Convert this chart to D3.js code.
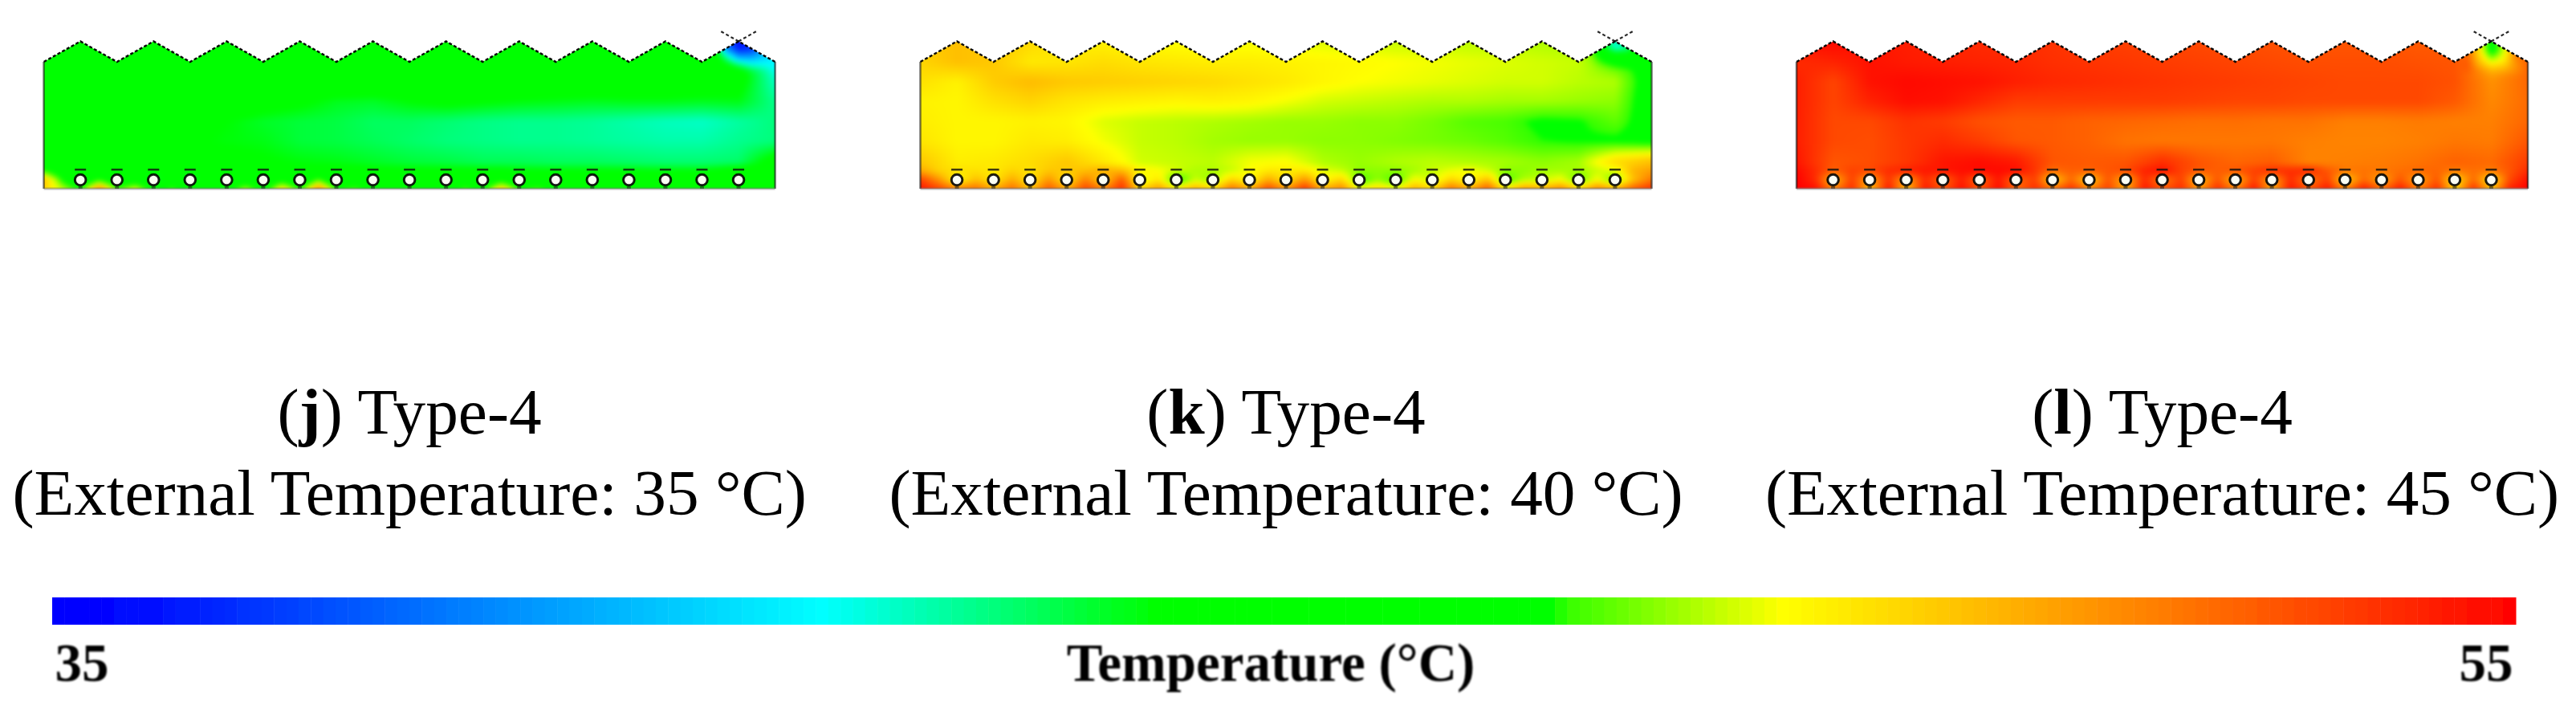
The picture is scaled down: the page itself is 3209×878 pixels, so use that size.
<!DOCTYPE html>
<html>
<head>
<meta charset="utf-8">
<script src="https://cdn.jsdelivr.net/npm/d3@7"></script>
<style>
    html, body { margin: 0; padding: 0; background: #fff; }
    #stage { position: relative; width: 3209px; height: 878px; overflow: hidden; }
    #stage canvas, #stage svg { position: absolute; left: 0; top: 0; }
    text { font-family: "Liberation Serif", serif; fill: #000; }
</style>
</head>
<body>
<div id="stage"></div>
<script>
// Temperatures, in degC
const letters = ['j', 'k', 'l'];
const externalTemps = [35, 40, 45];
const legendTicks = [35, 55];
const legendTitle = 'Temperature (°C)';

// Color bar stops (degC -> color)
const barTemps = [35, 35.6, 41.2, 43.9, 47.15, 47.22, 49, 55];
const barColors = ['#0000ff', '#0008ff', '#00ffff', '#00ff00', '#00ff00', '#33ff00', '#ffff00', '#ff0000'];

// Main field: 7 rows from the peaks downwards, 21 columns along the section
const mainJ = [
    [45.5,45.6,45.6,45.6,45.6,45.6,45.5,45.5,45.5,45.5,45.5,45.5,45.5,45.4,45.4,45.4,45.4,45.3,45.3,45.3,43],
    [45.5,45.6,45.6,45.6,45.6,45.6,45.5,45.5,45.5,45.5,45.5,45.5,45.4,45.4,45.4,45.3,45.3,45.2,45.2,45,41.2],
    [45.3,45.5,45.5,45.4,45.4,45.4,45.2,45.1,45,44.9,44.9,45,45,44.9,44.8,44.8,44.7,44.7,44.6,44.4,41.8],
    [45.1,45.3,45.2,45,45,44.9,44.4,44.1,43.6,43.5,43.9,44.2,44,43.8,43.7,43.6,43.7,43.7,43.6,43.7,42.4],
    [45.1,45.2,45,45,44.1,43.9,43.5,43.3,43.2,42.9,42.9,42.7,42.5,42.4,42.4,42.3,42.1,41.9,41.8,42.2,42.6],
    [45.1,45.1,44.9,44.3,44,43.8,43.7,43.3,43.2,43,42.8,42.6,42.5,42.4,42.4,42.3,42.2,42.1,42.1,42.4,42.6],
    [46.5,45,45,44.6,44,44.2,44,43.8,43.7,43.5,43.3,43.2,43,43,42.9,42.9,42.8,42.7,42.7,42.8,44.5]
];
const mainK = [
    [50.2,50.5,50.3,49.9,49.4,49.3,49.1,49,48.9,48.9,48.8,48.7,48.6,48.5,48.5,48.4,48.4,48.3,48.2,47.8,46.7],
    [50,50.5,50.3,49.5,49.6,49.8,49.6,49.5,49.4,49.4,49.3,49.2,49.1,49,48.9,48.8,48.7,48.6,48.5,47.5,46.5],
    [49.7,49.3,50.2,50.6,50.3,50.2,50.1,50,49.9,49.7,49.5,49.2,49,48.9,48.8,48.7,48.6,48.6,48.4,48.3,46.3],
    [49.3,49.2,49.7,50,49.6,49.4,49.3,49.2,49.3,49.2,48.9,48.6,48.5,48.4,48.3,48.3,48.2,48.2,48.1,48,46.3],
    [49.4,49.2,49.2,49.3,49.2,48.7,48.5,48.4,48.3,48.2,48.1,48.1,48,48,47.8,47.5,47.4,47,47.1,47.6,46.5],
    [49.6,49.2,49.2,49.5,49.4,48.9,48.5,48.4,48.2,48.1,48.1,48,48,47.9,47.8,47.7,47.5,47.2,47.1,47,46.7],
    [50.3,49.4,49.5,49.8,50.3,49.5,48.6,48.5,48.4,48.9,49,48.3,48.1,48.3,48.4,48.3,48.2,48,48.2,49.8,50.5]
];
const mainL = [
    [54.6,54.8,54.5,54.3,54.1,54,54,53.8,53.6,53.5,53.4,53.3,53.2,53.1,53,53,53,52.9,52.9,50.5,52.5],
    [54,54.2,54.6,54.4,54.3,54.2,54.1,53.9,53.8,53.7,53.6,53.5,53.4,53.3,53.2,53.2,53.2,53.1,53,50.8,52.7],
    [54.3,53.4,54.6,54.8,54.7,54.6,54.3,54.1,54,53.9,53.8,53.7,53.6,53.5,53.4,53.3,53.3,53.3,53.1,51.6,52.6],
    [54.3,53.4,54.2,54.7,54.6,54.1,53.6,53.6,53.6,53.6,53.6,53.5,53.4,53.4,53.3,53.3,53.3,53.3,52.9,51.8,52.5],
    [54.3,53.3,53.3,53.8,53.6,53.1,52.9,52.9,52.7,52.6,52.5,52.4,52.4,52.3,52.3,52,52,52.1,52,52,52.6],
    [54.3,53.3,53.2,53.7,54,53.6,53,52.9,52.7,52.3,52.2,52.2,52.2,52.2,52,51.9,51.9,52,52.2,52.1,53],
    [54.5,53,53.2,53.7,54.5,54.7,54.4,53,52.9,53,53.9,53,52.6,52.8,51.9,52,52.1,52.3,52.7,52.5,53.6]
];

// Floor strip: 3 rows, 41 columns (even columns from 2 sit on the tubes)
const floorJ = [
    [47,45.5,45,44.8,44.5,44.5,44.2,44.2,44.2,44.2,44.4,44.6,44.6,44.8,44.8,44.8,44.8,44.5,44.2,44.2,44.2,44.2,44.2,44.2,44.2,44.2,44,44,44,44,44,44,44,43.9,43.9,43.9,43.9,44.3,45,45.5,45.5],
    [50.5,47,44,47,44.5,45.5,43,45,43,45,43.5,45,44,46,44,47.5,44,45,43.5,45,43,45,43.5,45,44,46,44,45,43.8,45,43.5,45,43.5,45,43.5,45,43.5,45,43.5,45,45.5],
    [50,48.5,47,52,47.5,49,46,47.5,45.5,47,46,48.5,46,50,47,52,47,47.5,46.5,47,46,47,46,47.5,46.5,50.5,47,47.5,46.5,47,46,47,46,47,46,47,46,47,46,47,47]
];
const floorK = [
    [51,50,49.7,49.7,49.5,50,49.7,50.3,50.3,50.5,51,50.6,49.3,49,48.6,48.3,48.3,48.5,49,49.5,49.5,49.5,48.8,48.5,48,48,48,48.2,48.5,48.8,49,48.6,48,48,48.2,48.2,48.2,48.5,48.8,50.8,51.3],
    [53.5,51.5,49,50.5,49.5,51,49.5,51.5,49.5,52,50,53,48.5,49.5,47,48.5,48,50,49,51,49.5,51.5,49,50,47.3,48,47.3,49,48.5,50,49,50.5,47.3,48.3,48.5,49,47.5,49,47.5,50.5,52.3],
    [54.5,53.5,52,52.5,51,52.5,50.5,53,51,53.5,52,54,50,51.5,49.5,51,50,52.5,51,53.5,51.5,54,51,52,49,50,49,51,50,52.5,51,53,49.5,51.5,51,52,50,52,51,53,54]
];
const floorL = [
    [54.8,54,52.8,53.5,53.3,54,54.3,54.5,54.5,54.7,54.8,54.8,54.7,53.8,52.5,52.8,52.8,53,53.3,54.2,54.7,53.5,53,52.8,53,53.5,54,54,54.2,53,52.2,52.3,52.2,52.4,52.6,52.6,52.2,52.4,52.2,53,54],
    [55,54,50.5,53.5,51,53.8,51,54,52.5,54.3,52.5,54.5,52.5,53.5,50,52.5,50,53,50.7,54,52,53.5,50.5,53,50.5,53.5,51,54,52,53.5,50,52.5,51,53,51,53,49.5,52.5,49.5,53.3,54.7],
    [55,54.7,52,54,50.5,54.5,50.5,54.5,53,54.7,53,54.8,52.5,54,52.5,54,52,53.5,51,54.5,53,54,51.5,54,52,54.5,51,54.5,53,54.5,52,54.5,52.5,54.5,52,54,50,54,50.5,54.3,55]
];

// Around the vent in the last peak: 5 rows, 7 columns
const ventJ = [
    [45.5,45.5,38,35.5,37,40,41],
    [45.5,45,38.5,36,36.5,39,41],
    [45.5,45,42,39,39,40,41],
    [45.5,45,44,42.6,41.5,41.3,41],
    [45.5,45,45,44,43,42.2,41.2]
];
const ventK = [
    [48.5,48.3,44,41.5,43,46.5,46.7],
    [48.5,48,44,41.8,42.5,45.5,46.5],
    [48.5,47.9,46.4,45.5,45.3,45.5,46.5],
    [48.5,48.2,47.5,46.9,46.5,46.4,46.5],
    [48.5,48.3,48.1,47.8,47.6,46.8,46.4]
];
const ventL = [
    [53,52.5,49.5,46.5,49,52,52.8],
    [53,52.4,49.5,46,48.5,52,52.8],
    [53,52.7,50,47.6,49,52,52.8],
    [53,53,50.8,49.5,50,51.6,52.7],
    [53,53.2,51.8,50.5,50.5,51.3,52.6]
];

const mains = [mainJ, mainK, mainL];
const floors = [floorJ, floorK, floorL];
const vents = [ventJ, ventK, ventL];

const width = 3209, height = 878;
const panelLefts = [54.6, 1146.5, 2238];
const panelWidth = 911;

// Vertical layout of one section
const yPeak = 51.5, yValley = 77, yFloor = 235;
const yMain = d3.scaleLinear().domain([0, 6]).range([52, 200]);
const yFloorRow = d3.scaleLinear().domain([0, 2]).range([212, 235]);
const yVent = d3.scaleLinear().domain([0, 4]).range([50, 90]);

const colorScale = d3.scaleLinear().domain(barTemps).range(barColors).clamp(true);
const colorLut = d3.range(0, 2001).map(i => d3.rgb(colorScale(35 + i / 100)));

const stage = d3.select('#stage');
const canvas = stage.append('canvas').attr('width', width).attr('height', height);
const ctx = canvas.node().getContext('2d');
const svg = stage.append('svg').attr('width', width).attr('height', height);

const defs = svg.append('defs');
defs.append('filter').attr('id', 'soft').attr('x', '-5%').attr('y', '-5%').attr('width', '110%').attr('height', '110%')
    .append('feGaussianBlur').attr('stdDeviation', 0.6);
defs.append('filter').attr('id', 'softText').attr('x', '-5%').attr('y', '-20%').attr('width', '110%').attr('height', '140%')
    .append('feGaussianBlur').attr('stdDeviation', 0.9);

function clamp01(v) {
    return Math.max(0, Math.min(1, v));
}

// Bilinear lookup in a grid; u and v are column and row positions
function sample(grid, u, v) {
    const rows = grid.length, cols = grid[0].length;
    u = Math.max(0, Math.min(cols - 1, u));
    v = Math.max(0, Math.min(rows - 1, v));
    const c = Math.min(cols - 2, Math.floor(u)), r = Math.min(rows - 2, Math.floor(v));
    const fu = u - c, fv = v - r;
    const top = grid[r][c] * (1 - fu) + grid[r][c + 1] * fu;
    const bot = grid[r + 1][c] * (1 - fu) + grid[r + 1][c + 1] * fu;
    return top * (1 - fv) + bot * fv;
}

function outline(x) {
    return d3.range(0, 21).map(i => [x(i), i % 2 ? yPeak : yValley]);
}

function drawField(k, x) {
    const x0 = Math.floor(x(0)) - 12, y0 = 40;
    const w = panelWidth + 24, h = 210;
    const off = document.createElement('canvas');
    off.width = w;
    off.height = h;
    const octx = off.getContext('2d');
    const img = octx.createImageData(w, h);

    const xFloor = d3.scaleLinear().domain([0, 40]).range(x.range());
    const xVent = d3.scaleLinear().domain([0, 6]).range([x(19) - panelWidth / 20, x(20)]);

    for (let py = 0; py < h; py++) {
        const y = y0 + py;
        const vMain = yMain.invert(y), vFloor = yFloorRow.invert(y), vVent = yVent.invert(y);
        const wFloor = clamp01((y - 202) / 10);
        const wVentY = clamp01((95 - y) / 15);
        for (let px = 0; px < w; px++) {
            const xp = x0 + px;
            let t = sample(mains[k], x.invert(xp), vMain);
            if (wFloor > 0) {
                t += (sample(floors[k], xFloor.invert(xp), vFloor) - t) * wFloor;
            }
            const wVent = wVentY * clamp01((xp - xVent(0)) / 15);
            if (wVent > 0) {
                t += (sample(vents[k], xVent.invert(xp), vVent) - t) * wVent;
            }
            const c = colorLut[Math.max(0, Math.min(2000, Math.round((t - 35) * 100)))];
            const o = (py * w + px) * 4;
            img.data[o] = c.r;
            img.data[o + 1] = c.g;
            img.data[o + 2] = c.b;
            img.data[o + 3] = 255;
        }
    }
    octx.putImageData(img, 0, 0);

    // Clip to the section shape, smooth the field a little
    ctx.save();
    ctx.beginPath();
    outline(x).forEach((p, i) => i ? ctx.lineTo(p[0], p[1]) : ctx.moveTo(p[0], p[1]));
    ctx.lineTo(x(20), yFloor);
    ctx.lineTo(x(0), yFloor);
    ctx.closePath();
    ctx.clip();
    ctx.filter = 'blur(3px)';
    ctx.drawImage(off, x0, y0);
    ctx.restore();
}

function drawSection(k) {
    const left = panelLefts[k];
    const x = d3.scaleLinear().domain([0, 20]).range([left, left + panelWidth]);
    drawField(k, x);

    const g = svg.append('g').attr('filter', 'url(#soft)');
    const line = d3.line();

    // Zigzag roof
    g.append('path')
        .attr('d', line(outline(x)))
        .attr('fill', 'none')
        .attr('stroke', '#000')
        .attr('stroke-opacity', 0.95)
        .attr('stroke-width', 2.4)
        .attr('stroke-dasharray', '4 2.5');

    // Side walls
    [0, 20].forEach(i => {
        g.append('line')
            .attr('x1', x(i)).attr('x2', x(i))
            .attr('y1', yValley).attr('y2', yFloor)
            .attr('stroke', '#111')
            .attr('stroke-opacity', 0.6)
            .attr('stroke-width', 2.5);
    });

    // Floor
    g.append('line')
        .attr('x1', x(0)).attr('x2', x(20))
        .attr('y1', yFloor).attr('y2', yFloor)
        .attr('stroke', '#777')
        .attr('stroke-opacity', 0.5)
        .attr('stroke-width', 3);

    // Vent above the last peak
    [-1, 1].forEach(dir => {
        g.append('line')
            .attr('x1', x(19)).attr('y1', yPeak)
            .attr('x2', x(19) + dir * 23).attr('y2', yPeak - 13)
            .attr('stroke', '#111')
            .attr('stroke-opacity', 0.9)
            .attr('stroke-width', 2.2)
            .attr('stroke-dasharray', '4 3');
    });

    // Tubes
    const tubes = g.selectAll('g.tube')
        .data(d3.range(1, 20))
        .enter()
        .append('g')
        .attr('class', 'tube')
        .attr('transform', d => `translate(${x(d)},224)`);
    tubes.append('rect')
        .attr('x', -7).attr('y', -14)
        .attr('width', 14).attr('height', 2.5)
        .attr('fill', '#111').attr('fill-opacity', 0.8);
    tubes.append('rect')
        .attr('x', -2.5).attr('y', 8)
        .attr('width', 5).attr('height', 3)
        .attr('fill', '#111').attr('fill-opacity', 0.5);
    tubes.append('circle')
        .attr('r', 6.8)
        .attr('fill', '#fbfff4')
        .attr('stroke', '#000')
        .attr('stroke-opacity', 0.88)
        .attr('stroke-width', 3);

    // Caption
    const cx = x(10);
    const cap = svg.append('text').attr('x', cx).attr('y', 540)
        .attr('text-anchor', 'middle').attr('font-size', 81.3);
    cap.append('tspan').text('(');
    cap.append('tspan').attr('font-weight', 'bold').text(letters[k]);
    cap.append('tspan').text(') Type-4');
    svg.append('text').attr('x', cx).attr('y', 641)
        .attr('text-anchor', 'middle').attr('font-size', 81.3)
        .text(`(External Temperature: ${externalTemps[k]} °C)`);
}

d3.range(0, 3).forEach(drawSection);

// Color bar
const xBar = d3.scaleLinear().domain(legendTicks).range([65, 3134]);
const bar = svg.append('g').attr('filter', 'url(#soft)');
const bandStep = 0.1;
bar.selectAll('rect')
    .data(d3.range(35, 55, bandStep))
    .enter()
    .append('rect')
    .attr('x', d => xBar(d))
    .attr('y', 744)
    .attr('width', xBar(35 + bandStep) - xBar(35) + 0.5)
    .attr('height', 34)
    .attr('fill', d => colorScale(d));

const axis = d3.axisBottom(xBar).tickValues(legendTicks).tickSize(0).tickFormat(d3.format('d'));
const axisG = svg.append('g')
    .attr('transform', 'translate(0,848)')
    .attr('filter', 'url(#softText)')
    .call(axis);
axisG.select('.domain').remove();
axisG.selectAll('text')
    .attr('y', 0).attr('dy', 0)
    .attr('font-family', '"Liberation Serif", serif')
    .attr('font-size', 67)
    .attr('font-weight', 'bold')
    .attr('text-anchor', d => d === 35 ? 'start' : 'end')
    .attr('dx', d => d === 35 ? 3 : -4);
axisG.append('text')
    .attr('x', 1583)
    .attr('text-anchor', 'middle')
    .attr('font-size', 67)
    .attr('font-weight', 'bold')
    .text(legendTitle);
</script>
</body>
</html>
